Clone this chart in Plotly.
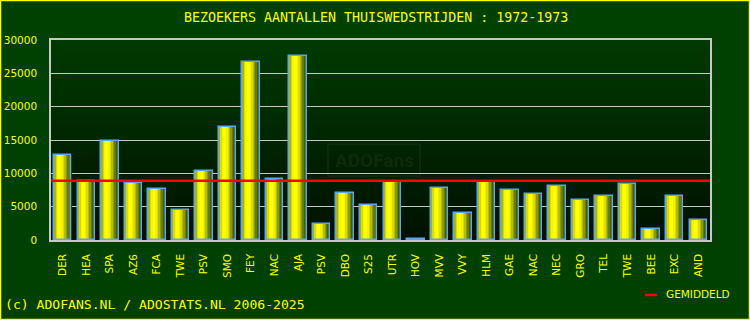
import plotly.graph_objects as go

# ---- data ----
teams = ["DER", "HEA", "SPA", "AZ6", "FCA", "TWE", "PSV", "SMO", "FEY", "NAC",
         "AJA", "PSV", "DBO", "S25", "UTR", "HOV", "MVV", "VVY", "HLM", "GAE",
         "NAC", "NEC", "GRO", "TEL", "TWE", "BEE", "EXC", "AND"]
visitors = [12700, 8800, 14800, 8500, 7700, 4450, 10300, 16950, 26650, 9200,
            27550, 2350, 7000, 5200, 8650, 100, 7750, 4000, 8650, 7450,
            6850, 8050, 5950, 6550, 8350, 1600, 6550, 2950]
average = 8900
y_ticks = [0, 5000, 10000, 15000, 20000, 25000, 30000]
y_tick_labels = ["0", "5000", "10000", "15000", "20000", "25000", "30000"]

title_text = "BEZOEKERS AANTALLEN THUISWEDSTRIJDEN : 1972-1973"
footer_text = "(c) ADOFANS.NL / ADOSTATS.NL 2006-2025"
legend_text = "GEMIDDELD"

# ---- styling ----
W, H = 750, 320
ML, MR, MT, MB = 51, 40, 40, 80
PW, PH = W - ML - MR, H - MT - MB
YELLOW = "#ffff00"
BG = "#004000"

def px_x(x):
    return (x - ML) / PW

def px_y(y):
    return (MT + PH - y) / PH

xs = list(range(len(teams)))
bar_w = 0.74
grad = ["#a8b41a", "#d4da0c", "#f6f602", "#ffff00", "#ffff00", "#f2f200",
        "#d8dc00", "#b4bc00", "#8c9a00", "#667c00", "#466000", "#2e4a04"]
n = len(grad)
sw = bar_w / n

fig = go.Figure()
for j, c in enumerate(grad):
    fig.add_trace(go.Bar(
        x=xs, y=visitors, width=sw * 1.4 if j < n - 1 else sw,
        offset=-bar_w / 2 + j * sw,
        marker=dict(color=c, line=dict(width=0)),
        showlegend=False, hoverinfo="skip"))
# outline
fig.add_trace(go.Bar(
    x=xs, y=visitors, width=bar_w, offset=-bar_w / 2,
    marker=dict(color="rgba(0,0,0,0)", line=dict(color="#5aa6f0", width=1.5)),
    showlegend=False, name="bezoekers"))
# average line on hidden numeric axis
fig.add_trace(go.Scatter(
    x=[0, 1], y=[average, average], xaxis="x2", mode="lines",
    line=dict(color="#ff0000", width=2.5), showlegend=False, name=legend_text))

shapes = []
# plot background gradient
top = (0, 58, 0)
bot = (0, 18, 0)
steps = 40
for i in range(steps):
    t = i / (steps - 1)
    col = tuple(round(top[k] + (bot[k] - top[k]) * t) for k in range(3))
    shapes.append(dict(type="rect", xref="paper", yref="paper",
                       x0=0, x1=1, y0=1 - (i + 1) / steps, y1=1 - i / steps + 0.001,
                       fillcolor="rgb(%d,%d,%d)" % col, line=dict(width=0),
                       layer="below"))
# watermark box
shapes.append(dict(type="rect", xref="paper", yref="paper",
                   x0=px_x(328), x1=px_x(420), y0=px_y(176), y1=px_y(144),
                   line=dict(color="#103006", width=1.5), fillcolor="rgba(0,0,0,0)",
                   layer="below"))
# legend line
shapes.append(dict(type="line", xref="paper", yref="paper",
                   x0=px_x(645), x1=px_x(657), y0=px_y(295), y1=px_y(295),
                   line=dict(color="#ff0000", width=2.5)))
# yellow outer border
shapes.append(dict(type="rect", xref="paper", yref="paper",
                   x0=px_x(0.5), x1=px_x(W - 0.5), y0=px_y(H - 0.5), y1=px_y(0.5),
                   line=dict(color=YELLOW, width=1.5), fillcolor="rgba(0,0,0,0)"))

annotations = [
    dict(text=title_text, xref="paper", yref="paper", x=px_x(376), y=px_y(17),
         xanchor="center", yanchor="middle", showarrow=False,
         font=dict(family="DejaVu Sans Mono", size=13.3, color=YELLOW)),
    dict(text=footer_text, xref="paper", yref="paper", x=px_x(3), y=px_y(304),
         xanchor="left", yanchor="middle", showarrow=False,
         font=dict(family="DejaVu Sans Mono", size=13.1, color=YELLOW)),
    dict(text=legend_text, xref="paper", yref="paper", x=px_x(664), y=px_y(294),
         xanchor="left", yanchor="middle", showarrow=False,
         font=dict(family="DejaVu Sans", size=10.5, color=YELLOW)),
    dict(text="<b>ADOFans</b>", xref="paper", yref="paper", x=px_x(374), y=px_y(160),
         xanchor="center", yanchor="middle", showarrow=False,
         font=dict(family="Roboto", size=19, color="#0f2a06")),
]

fig.update_layout(
    width=W, height=H,
    margin=dict(l=ML, r=MR, t=MT, b=MB),
    paper_bgcolor=BG, plot_bgcolor="rgba(0,0,0,0)",
    barmode="overlay", bargap=0,
    shapes=shapes, annotations=annotations,
    xaxis=dict(range=[-0.5, len(teams) - 0.5], tickmode="array", tickvals=xs,
               ticktext=teams, tickangle=-90, showgrid=False, zeroline=False,
               showline=True, linecolor="#c8c8c8", linewidth=1.5, mirror=True,
               ticks="", ticklabelstandoff=8, automargin=False,
               tickfont=dict(family="DejaVu Sans", size=10.5, color=YELLOW)),
    xaxis2=dict(range=[0, 1], overlaying="x", visible=False),
    yaxis=dict(range=[0, 30000], tickmode="array", tickvals=y_ticks,
               ticktext=y_tick_labels, automargin=False,
               showgrid=True, gridcolor="#c8c8c8", gridwidth=1, zeroline=False,
               showline=True, linecolor="#c8c8c8", linewidth=1.5, mirror=True,
               ticks="", ticklabelstandoff=10,
               tickfont=dict(family="DejaVu Sans", size=10.5, color=YELLOW)),
    showlegend=False,
)

fig.write_html("out.html")
